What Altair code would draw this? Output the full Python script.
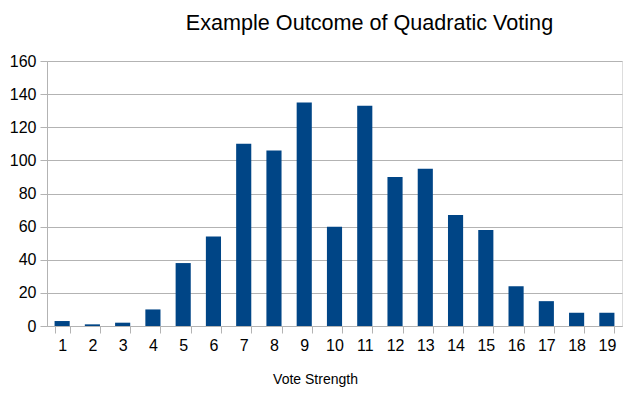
import altair as alt
import pandas as pd

strengths = [str(i) for i in range(1, 20)]
counts = [3, 1, 2, 10, 38, 54, 110, 106, 135, 60, 133, 90, 95, 67, 58, 24, 15, 8, 8]

df = pd.DataFrame({"strength": strengths, "count": counts})

grid = "#b3b3b3"
font = "Liberation Sans"

chart = alt.Chart(df).mark_bar(color="#004586").encode(
    x=alt.X(
        "strength:N",
        sort=strengths,
        scale=alt.Scale(paddingInner=0.5, paddingOuter=0.25),
        axis=alt.Axis(
            title="Vote Strength",
            labelAngle=0,
            tickBand="extent",
            tickSize=7,
            tickColor=grid,
            domainColor=grid,
            labelPadding=4,
            labelFontSize=16,
            labelColor="#000000",
            labelFont=font,
            titleFont=font,
            titleFontSize=14,
            titleFontWeight="normal",
            titleColor="#000000",
            titleX=268,
            titleY=57,
            titleAlign="center",
            titleBaseline="alphabetic",
            grid=False,
        ),
    ),
    y=alt.Y(
        "count:Q",
        scale=alt.Scale(domain=[0, 160], nice=False),
        axis=alt.Axis(
            title=None,
            values=[0, 20, 40, 60, 80, 100, 120, 140, 160],
            tickSize=7,
            tickColor=grid,
            domainColor=grid,
            gridColor=grid,
            labelPadding=4,
            labelFontSize=16,
            labelColor="#000000",
            labelFont=font,
        ),
    ),
).properties(
    width=575,
    height=265,
    title=alt.TitleParams(
        "Example Outcome of Quadratic Voting",
        font=font,
        fontSize=21.6,
        fontWeight="normal",
        color="#000000",
        anchor="middle",
        dx=35,
        dy=-14,
    ),
    autosize=alt.AutoSizeParams(type="none"),
    padding={"left": 39, "top": 53, "right": 10, "bottom": 62},
).configure_view(
    stroke=grid
).configure(background="white")

chart.save("out.html", embed_options={"renderer": "svg", "actions": False})
